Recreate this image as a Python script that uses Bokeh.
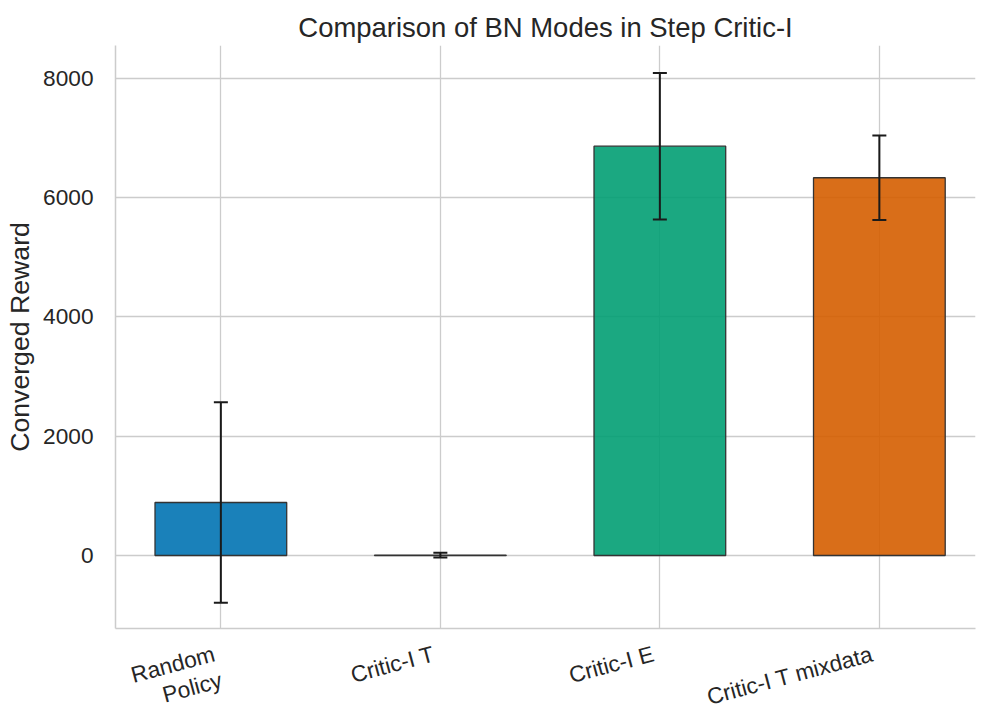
import math
from bokeh.plotting import figure
from bokeh.layouts import column
from bokeh.models import ColumnDataSource, Whisker, FixedTicker, Range1d, TeeHead
from bokeh.embed import file_html
from bokeh.resources import INLINE
from bokeh.core.properties import value

categories = ["Random\nPolicy", "Critic-I T", "Critic-I E", "Critic-I T mixdata"]
means = [889, 5, 6865, 6335]
errors = [1680, 40, 1228, 710]
colors = ["#0173b2", "#de8f05", "#029e73", "#d55e00"]
y_ticks = [0, 2000, 4000, 6000, 8000]
y_start, y_end = -1224, 8553
x_start, x_end = -0.48, 3.438

W, H1, H2 = 981, 630, 79
BL, BR, BT, BB = 115, 6, 45, 2

xs = list(range(len(categories)))
src = ColumnDataSource(dict(
    x=xs, top=means, color=colors,
    lower=[m - e for m, e in zip(means, errors)],
    upper=[m + e for m, e in zip(means, errors)],
))

p = figure(width=W, height=H1, output_backend="svg", toolbar_location=None,
           x_range=Range1d(x_start, x_end), y_range=Range1d(y_start, y_end),
           min_border_left=BL, min_border_right=BR, min_border_top=BT, min_border_bottom=BB,
           title="Comparison of BN Modes in Step Critic-I")

p.title.text_font = "Liberation Sans"
p.title.text_font_size = "20.6pt"
p.title.text_font_style = "normal"
p.title.text_color = "#262626"
p.title.align = "center"
p.title.offset = 0
p.title.standoff = 6

p.vbar(x="x", top="top", bottom=0, width=0.6, source=src, fill_color="color",
       fill_alpha=0.9, line_color="#333333", line_width=1.3)

w = Whisker(base="x", upper="upper", lower="lower", source=src,
            line_color="#1a1a1a", line_width=2, level="overlay",
            upper_head=TeeHead(size=14, line_color="#1a1a1a", line_width=2),
            lower_head=TeeHead(size=14, line_color="#1a1a1a", line_width=2))
p.add_layout(w)

p.xaxis.ticker = FixedTicker(ticks=[])
p.xaxis.major_label_standoff = 0
p.yaxis.ticker = FixedTicker(ticks=y_ticks)
p.yaxis.axis_label = "Converged Reward"
p.yaxis.major_label_standoff = 16

for ax in (p.xaxis, p.yaxis):
    ax.axis_line_color = "#cccccc"
    ax.axis_line_width = 1.5
    ax.major_tick_line_color = None
    ax.minor_tick_line_color = None
    ax.major_label_text_font = "Liberation Sans"
    ax.major_label_text_color = "#262626"
    ax.major_label_text_font_size = "17pt"
    ax.axis_label_text_font = "Liberation Sans"
    ax.axis_label_text_font_size = "20pt"
    ax.axis_label_text_font_style = "normal"
    ax.axis_label_text_color = "#262626"

p.xgrid.ticker = FixedTicker(ticks=xs)
p.ygrid.ticker = FixedTicker(ticks=y_ticks)
for g in (p.xgrid, p.ygrid):
    g.grid_line_color = "#cccccc"
    g.grid_line_width = 1.3
p.outline_line_color = None
p.background_fill_color = "white"
p.border_fill_color = "white"

# strip of category labels below the main plot; the column aligns its frame with p's
p2 = figure(width=W, height=H2, output_backend="svg", toolbar_location=None,
            x_range=p.x_range, y_range=Range1d(-H2, 0),
            x_axis_type=None, y_axis_type=None,
            min_border_left=BL, min_border_right=BR, min_border_top=0, min_border_bottom=0)
p2.grid.visible = False
p2.outline_line_color = None
p2.background_fill_color = "white"
p2.border_fill_color = "white"
lab_src = ColumnDataSource(dict(x=xs, y=[-10] * len(xs), text=categories))
p2.text(x="x", y="y", text="text", source=lab_src, angle=math.radians(15),
        text_align="right", text_baseline="top", x_offset=-10,
        text_font=value("Liberation Sans"), text_font_size="17pt",
        text_color="#262626", text_line_height=1.05)

layout = column(p, p2, spacing=0)
open("out.html", "w").write(file_html(layout, INLINE))
